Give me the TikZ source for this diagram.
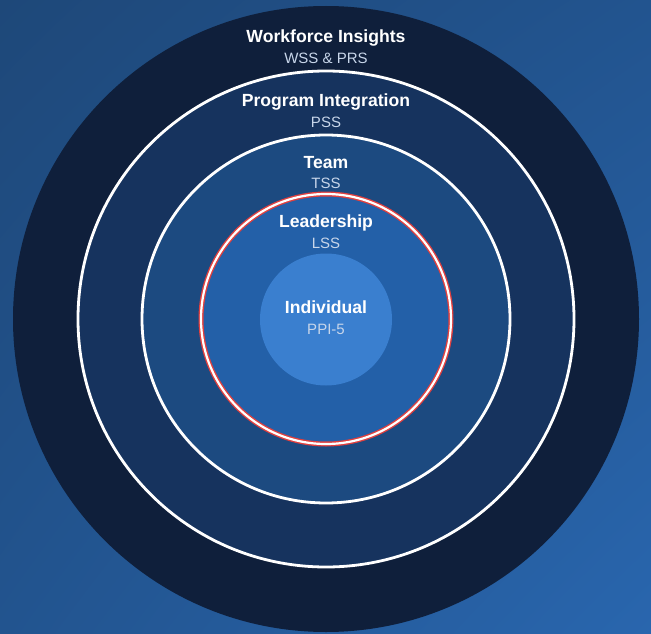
\documentclass[tikz,border=0pt]{standalone}
\usepackage{fontspec}
\setmainfont{Liberation Sans}
\usetikzlibrary{shadings}
\definecolor{bgA}{HTML}{1E4879}
\definecolor{bgB}{HTML}{22548F}
\definecolor{bgC}{HTML}{2966AE}
\definecolor{ringA}{HTML}{0F1F3B}
\definecolor{ringB}{HTML}{16335E}
\definecolor{ringC}{HTML}{1C4A80}
\definecolor{ringD}{HTML}{2360A8}
\definecolor{core}{HTML}{3A7FCF}
\definecolor{subtxt}{HTML}{C8D6EA}
\definecolor{redline}{HTML}{E0403F}
\begin{document}
\begin{tikzpicture}[x=1pt,y=-1pt,
  title/.style={font=\fontsize{17.6}{20}\selectfont\bfseries, text=white, inner sep=0pt},
  sub/.style={font=\fontsize{15}{17}\selectfont, text=subtxt, inner sep=0pt},
  ring/.style={circle, inner sep=0pt, draw=white, line width=2.8pt}]
\useasboundingbox (0,0) rectangle (651,634);
\shade[upper left=bgA, upper right=bgB, lower left=bgB, lower right=bgC] (0,0) rectangle (651,634);
\coordinate (c) at (326,319);
\node[circle, fill=ringA, minimum size=626pt, inner sep=0pt] (wf) at (c) {};
\node[ring, fill=ringB, minimum size=496pt] (pi) at (c) {};
\node[ring, fill=ringC, minimum size=368pt] (tm) at (c) {};
\node[circle, inner sep=0pt, fill=ringD, draw=redline, line width=5pt, minimum size=250pt] (ld) at (c) {};
\draw[white, line width=2.2pt] (c) circle (125pt);
\node[circle, fill=core, minimum size=132pt, inner sep=0pt] (in) at (326,319.5) {};
\node[title] (t1) at (326,37.5) {Workforce Insights};
\node[sub] (s1) at (326,58) {WSS \& PRS};
\node[title] (t2) at (326,101.5) {Program Integration};
\node[sub] (s2) at (326,122) {PSS};
\node[title] (t3) at (326,162.5) {Team};
\node[sub] (s3) at (326,183) {TSS};
\node[title] (t4) at (326,222.5) {Leadership};
\node[sub] (s4) at (326,243) {LSS};
\node[title] (t5) at (326,307.5) {Individual};
\node[sub] (s5) at (326,329) {PPI-5};
\end{tikzpicture}
\end{document}
